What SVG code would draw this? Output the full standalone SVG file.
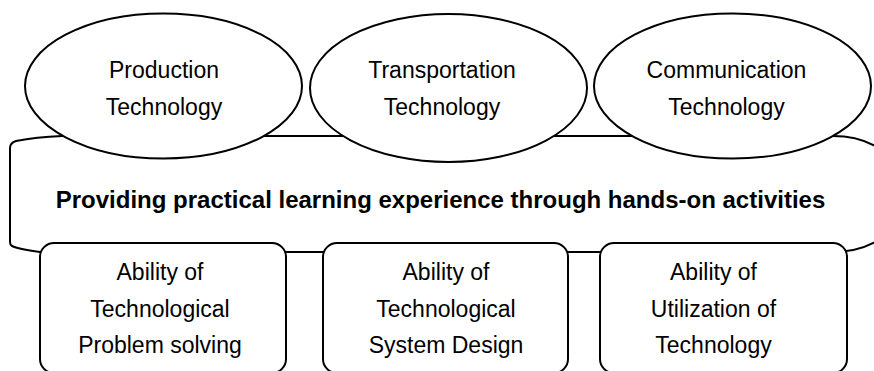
<svg xmlns="http://www.w3.org/2000/svg" width="874" height="371" viewBox="0 0 874 371">
<style>
.s{fill:#fff;stroke:#000;stroke-width:2}
.t{font-family:"Liberation Sans",Arial,Helvetica,sans-serif;font-size:23px;fill:#000;text-anchor:middle}
.b{font-weight:bold;font-size:24px}
</style>
<rect width="874" height="371" fill="#fff"/>
<g id="band">
<path class="s" d="M 62,136 L 833,136 A 75,58 0 0 1 833,252 L 40,252 Q 18,249 12,246 Q 10,245 10,242 L 10,148 Q 10,143 16,141 Q 36,137 62,136 Z"/>
<text class="t b" x="440.5" y="208">Providing practical learning experience through hands-on activities</text>
</g>
<g id="production">
<ellipse class="s" cx="163.5" cy="86" rx="138.5" ry="72.5"/>
<text class="t" x="164" y="78">Production</text>
<text class="t" x="164" y="115">Technology</text>
</g>
<g id="transportation">
<ellipse class="s" cx="448.5" cy="88" rx="138.5" ry="74"/>
<text class="t" x="442" y="78">Transportation</text>
<text class="t" x="442" y="115">Technology</text>
</g>
<g id="communication">
<ellipse class="s" cx="732.5" cy="86" rx="138.5" ry="72.5"/>
<text class="t" x="726.5" y="78">Communication</text>
<text class="t" x="726.5" y="115">Technology</text>
</g>
<g id="problem-solving">
<rect class="s" x="40" y="243" width="246" height="130" rx="14"/>
<text class="t" x="160" y="280">Ability of</text>
<text class="t" x="160" y="317">Technological</text>
<text class="t" x="160" y="353">Problem solving</text>
</g>
<g id="system-design">
<rect class="s" x="323" y="243" width="245" height="130" rx="14"/>
<text class="t" x="446" y="280">Ability of</text>
<text class="t" x="446" y="317">Technological</text>
<text class="t" x="446" y="353">System Design</text>
</g>
<g id="utilization">
<rect class="s" x="600" y="243" width="247" height="130" rx="14"/>
<text class="t" x="713.5" y="280">Ability of</text>
<text class="t" x="713.5" y="317">Utilization of</text>
<text class="t" x="713.5" y="353">Technology</text>
</g>
<g id="connectors"/>
</svg>
